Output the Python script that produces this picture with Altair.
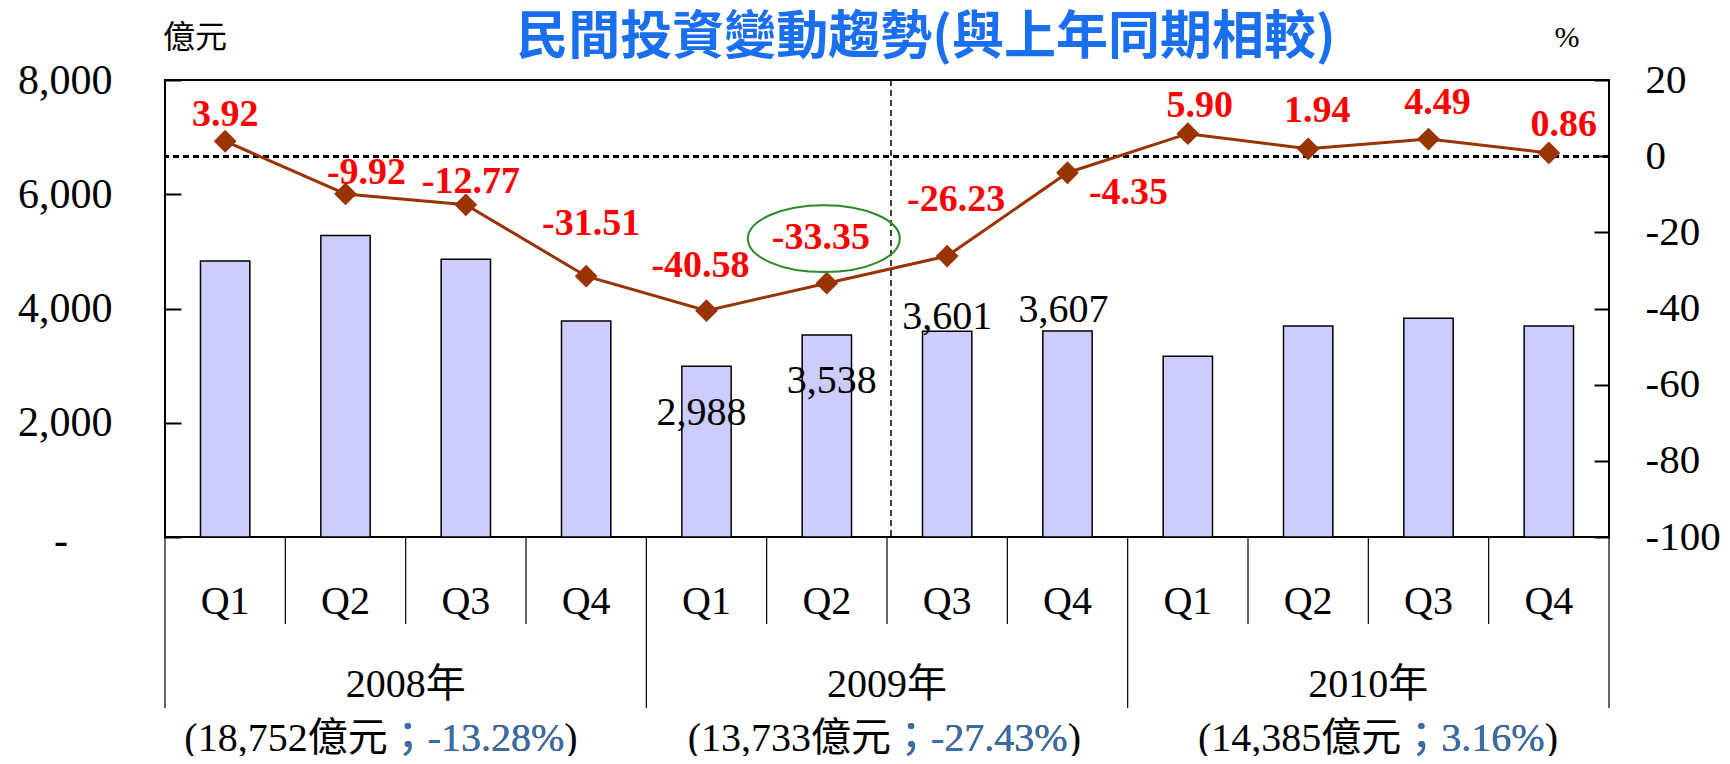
import altair as alt
import pandas as pd

# ---------------- data ----------------
years = ["2008", "2009", "2010"]
quarters = ["Q1", "Q2", "Q3", "Q4"]
investment = [4830, 5280, 4860, 3782, 2988, 3538, 3601, 3607, 3165, 3695, 3830, 3695]  # 億元
growth = [3.92, -9.92, -12.77, -31.51, -40.58, -33.35, -26.23, -4.35, 5.90, 1.94, 4.49, 0.86]  # %
growth_text = ["3.92", "-9.92", "-12.77", "-31.51", "-40.58", "-33.35",
               "-26.23", "-4.35", "5.90", "1.94", "4.49", "0.86"]
bar_text = ["", "", "", "", "2,988", "3,538", "3,601", "3,607", "", "", "", ""]
year_labels = ["2008年", "2009年", "2010年"]
year_totals = ["(18,752億元", "(13,733億元", "(14,385億元"]
year_changes = ["；-13.28%", "；-27.43%", "；3.16%"]
left_ticks = [0, 2000, 4000, 6000, 8000]
right_ticks = [-100, -80, -60, -40, -20, 0, 20]
zero_tick_label = "-"
title_text = "民間投資變動趨勢(與上年同期相較)"
left_unit = "億元"
right_unit = "%"
highlight_index = 5

# ---------------- label offsets (style only) ----------------
growth_dx = [0, 21, 5, 5, -6, -6, 9, 61, 12, 9, 9, 15]
growth_dy = [-26, -21, -23, -52, -45, -45, -56, 20, -28, -38, -36, -28]
bar_dx = {4: -5, 5: 5, 6: 0, 7: -4}
bar_dy = {4: 47, 5: 46, 6: -14, 7: -21}
summary_dx = [-18, 4, 33]

SERIF = "Liberation Serif, Noto Sans CJK TC"
CJK = "Noto Sans CJK TC"
W, H = 1444, 457

keys = [f"{y}-{q}" for y in years for q in quarters]
df = pd.DataFrame({
    "key": keys,
    "year": [y for y in years for q in quarters],
    "quarter": [q for y in years for q in quarters],
    "investment": investment,
    "growth": growth,
    "growth_text": growth_text,
    "bar_text": bar_text,
    "idx": list(range(len(keys))),
})
ydf = pd.DataFrame({
    "key": [f"{y}-Q3" for y in years],
    "label": year_labels,
    "total": year_totals,
    "change": year_changes,
    "change_full": [c + ")" for c in year_changes],
})

X_SCALE = alt.Scale(domain=keys, paddingInner=0, paddingOuter=0)


def X(bp=None):
    if bp is None:
        return alt.X("key:N", scale=X_SCALE, axis=None)
    return alt.X("key:N", scale=X_SCALE, axis=None, bandPosition=bp)


Y_LEFT = alt.Scale(domain=[0, 8000], nice=False)
Y_RIGHT = alt.Scale(domain=[-100, 20], nice=False)
left_axis = alt.Axis(orient="left", values=left_ticks,
                     labelExpr="datum.value == 0 ? '' : format(datum.value, ',')",
                     labelFont=SERIF, labelFontSize=42, labelColor="black",
                     tickColor="black", tickWidth=2, tickSize=16, offset=-16,
                     domain=False, grid=False, labelPadding=53, title=None)
right_axis = alt.Axis(orient="right", values=right_ticks,
                      labelExpr="'' + datum.value",
                      labelFont=SERIF, labelFontSize=41, labelColor="black",
                      tickColor="black", tickWidth=2, tickSize=15, offset=-15,
                      domain=False, grid=False, labelPadding=36, title=None)


def YL():
    return alt.Y("investment:Q", scale=Y_LEFT, axis=left_axis)


def YR():
    return alt.Y("growth:Q", scale=Y_RIGHT, axis=right_axis)


base = alt.Chart(df)

# ---------- left (investment) group ----------
bars = base.mark_bar(width=alt.RelativeBandSize(0.41), fill="#CCCCFF",
                     stroke="black", strokeWidth=1.5).encode(x=X(), y=YL())
left_layers = [bars]
for i in bar_dx:
    left_layers.append(
        base.mark_text(dx=bar_dx[i], dy=bar_dy[i], font=SERIF, fontSize=40,
                       color="black", baseline="middle")
        .encode(x=X(), y=YL(), text="bar_text:N")
        .transform_filter(alt.datum.idx == i)
    )

# separators and category labels below plot
left_layers.append(
    base.mark_rule(color="black", strokeWidth=1.2)
    .encode(x=X(0), y=alt.value(H), y2=alt.value(H + 87))
    .transform_filter("datum.quarter != 'Q1'")
)
left_layers.append(
    base.mark_rule(color="black", strokeWidth=1.2)
    .encode(x=X(0), y=alt.value(H), y2=alt.value(H + 171))
    .transform_filter("datum.quarter == 'Q1'")
)
left_layers.append(
    base.mark_rule(color="black", strokeWidth=1.2)
    .encode(x=X(1), y=alt.value(H), y2=alt.value(H + 171))
    .transform_filter(alt.datum.idx == len(keys) - 1)
)
left_layers.append(
    base.mark_rule(color="black", strokeWidth=1.5, strokeDash=[6, 4], xOffset=4)
    .encode(x=X(0), y=alt.value(0), y2=alt.value(H))
    .transform_filter("datum.key == '2009-Q3'")
)
left_layers.append(
    base.mark_text(font=SERIF, fontSize=40, color="black", baseline="middle")
    .encode(x=X(), y=alt.value(522), text="quarter:N")
)
ybase = alt.Chart(ydf)
left_layers.append(
    ybase.mark_text(font=SERIF, fontSize=40, color="black", baseline="middle")
    .encode(x=X(0), y=alt.value(605), text="label:N")
)
SUM_Y = 659
for j, yk in enumerate(ydf["key"]):
    flt = f"datum.key == '{yk}'"
    left_layers.append(
        ybase.mark_text(font=SERIF, fontSize=40, color="black", baseline="middle",
                        align="right", dx=summary_dx[j])
        .encode(x=X(0), y=alt.value(SUM_Y), text="total:N").transform_filter(flt)
    )
    left_layers.append(
        ybase.mark_text(font=SERIF, fontSize=40, color="black", baseline="middle",
                        align="left", dx=summary_dx[j])
        .encode(x=X(0), y=alt.value(SUM_Y), text="change_full:N").transform_filter(flt)
    )
    left_layers.append(
        ybase.mark_text(font=SERIF, fontSize=40, color="#3A6DA8", baseline="middle",
                        align="left", dx=summary_dx[j])
        .encode(x=X(0), y=alt.value(SUM_Y), text="change:N").transform_filter(flt)
    )

# titles / units / zero label of left axis
tdf = pd.DataFrame({"t": [title_text], "u1": [left_unit], "u2": [right_unit],
                    "z": [zero_tick_label]})
tbase = alt.Chart(tdf)
left_layers.append(
    tbase.mark_text(font=CJK, fontSize=52, fontWeight="bold", color="#1A6EF0",
                    baseline="middle")
    .encode(x=alt.value(761), y=alt.value(-42), text="t:N")
)
left_layers.append(
    tbase.mark_text(font=CJK, fontSize=32, color="black", baseline="middle")
    .encode(x=alt.value(30), y=alt.value(-42), text="u1:N")
)
left_layers.append(
    tbase.mark_text(font=SERIF, fontSize=30, color="black", baseline="middle")
    .encode(x=alt.value(1402), y=alt.value(-42), text="u2:N")
)
left_layers.append(
    tbase.mark_text(font=SERIF, fontSize=42, color="black", baseline="middle",
                    align="center", dy=4)
    .encode(x=alt.value(-104),
            y=alt.YDatum(0, type="quantitative", scale=Y_LEFT, axis=left_axis),
            text="z:N")
)

left_group = alt.layer(*left_layers)

# ---------- right (growth) group ----------
zero_rule = base.mark_rule(color="black", strokeWidth=2, strokeDash=[6, 4]).encode(
    y=alt.YDatum(0, type="quantitative", scale=Y_RIGHT, axis=right_axis)
)
line = base.mark_line(color="#993300", strokeWidth=3).encode(x=X(), y=YR())
points = base.mark_point(shape="diamond", filled=True, size=520, color="#993300",
                         opacity=1).encode(x=X(), y=YR())
right_layers = [zero_rule, line, points]
for i in range(len(keys)):
    right_layers.append(
        base.mark_text(dx=growth_dx[i], dy=growth_dy[i], font=SERIF, fontSize=38,
                       fontWeight="bold", color="#FF0000", baseline="middle")
        .encode(x=X(), y=YR(), text="growth_text:N")
        .transform_filter(alt.datum.idx == i)
    )
ELLIPSE = "M -1 0 A 1 0.44 0 1 0 1 0 A 1 0.44 0 1 0 -1 0 Z"
right_layers.append(
    base.mark_point(shape=ELLIPSE, size=23104, filled=False, stroke="#2A8A2A",
                    strokeWidth=2, opacity=1, xOffset=-3, yOffset=-44.5)
    .encode(x=X(), y=YR())
    .transform_filter(alt.datum.idx == highlight_index)
)
right_group = alt.layer(*right_layers)

chart = (
    alt.layer(left_group, right_group)
    .resolve_scale(y="independent")
    .resolve_axis(y="independent")
    .properties(
        width=W, height=H,
        autosize=alt.AutoSizeParams(type="none"),
        padding={"left": 157, "top": 72, "right": 113, "bottom": 219},
    )
    .configure_view(stroke="black", strokeWidth=2)
)

chart.save("out.html", embed_options={"renderer": "svg", "actions": False})
